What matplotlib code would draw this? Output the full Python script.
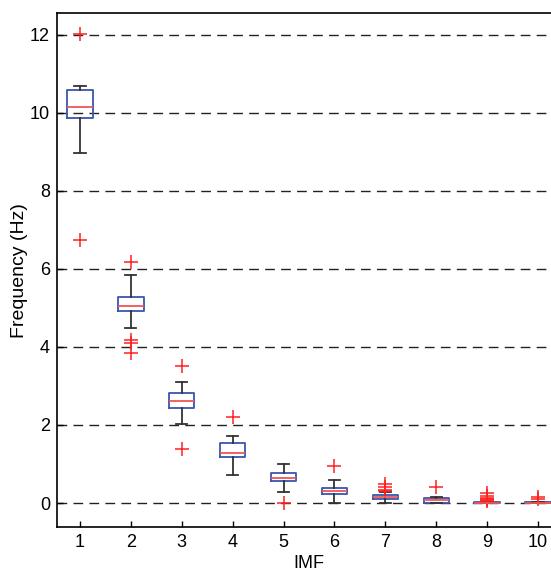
import matplotlib
matplotlib.use("Agg")
import matplotlib.pyplot as plt

plt.rcParams['font.family'] = ['Liberation Sans', 'DejaVu Sans']

imf = [1, 2, 3, 4, 5, 6, 7, 8, 9, 10]
whislo = [8.96, 4.49, 2.03, 0.73, 0.27, 0.00, 0.00, 0.00, 0.00, 0.00]
q1 = [9.87, 4.91, 2.43, 1.17, 0.56, 0.23, 0.11, 0.00, 0.00, 0.00]
med = [10.14, 5.06, 2.62, 1.29, 0.63, 0.32, 0.16, 0.07, 0.01, 0.01]
q3 = [10.59, 5.29, 2.83, 1.53, 0.76, 0.39, 0.20, 0.12, 0.02, 0.02]
whishi = [10.69, 5.85, 3.11, 1.73, 1.00, 0.59, 0.29, 0.15, 0.03, 0.03]
fliers = [
    [12.03, 6.74],
    [6.19, 4.18, 4.09, 3.84],
    [3.51, 1.39],
    [2.21],
    [-0.01],
    [0.95],
    [0.48, 0.40, 0.34, 0.31],
    [0.42],
    [0.25, 0.17, 0.13, 0.10, 0.07, 0.05],
    [0.15, 0.10],
]
yticks = [0, 2, 4, 6, 8, 10, 12]

stats = []
for i in range(len(imf)):
    stats.append(dict(label=str(imf[i]), whislo=whislo[i], q1=q1[i], med=med[i],
                      q3=q3[i], whishi=whishi[i], fliers=fliers[i]))

W, H = 551, 572
fig = plt.figure(figsize=(W / 100, H / 100), dpi=100)
left, right, top, bottom = 57, 561, 13, 527
ax = fig.add_axes([left / W, 1 - bottom / H, (right - left) / W, (bottom - top) / H])

ax.bxp(stats, positions=imf, widths=0.5, capwidths=0.22,
       boxprops=dict(color='#3a55b0', linewidth=1.3),
       medianprops=dict(color='#f05555', linewidth=1.3),
       whiskerprops=dict(color='#333333', linewidth=1.3),
       capprops=dict(color='#333333', linewidth=1.3),
       flierprops=dict(marker='+', markeredgecolor='#ff2020', markersize=10,
                       markeredgewidth=1.1, linestyle='none'))

ax.set_xlim(0.55, 10.45)
ax.set_ylim(-0.615, 12.56)
ax.set_yticks(yticks)
ax.set_xticks(imf)
ax.set_xticklabels([str(v) for v in imf])
ax.yaxis.grid(True, color='#222222', linestyle=(0, (7, 4.5)), linewidth=1.0)
ax.set_axisbelow(True)
ax.tick_params(direction='in', length=4, labelsize=13, width=1, pad=5)
for s in ax.spines.values():
    s.set_linewidth(1.2)
    s.set_color('black')

ax.set_ylabel('Frequency (Hz)', fontsize=14)
ax.yaxis.set_label_coords(-0.058, 0.498)
ax.set_xlabel('IMF', fontsize=13, labelpad=3)

fig.savefig('out.png', dpi=100)
